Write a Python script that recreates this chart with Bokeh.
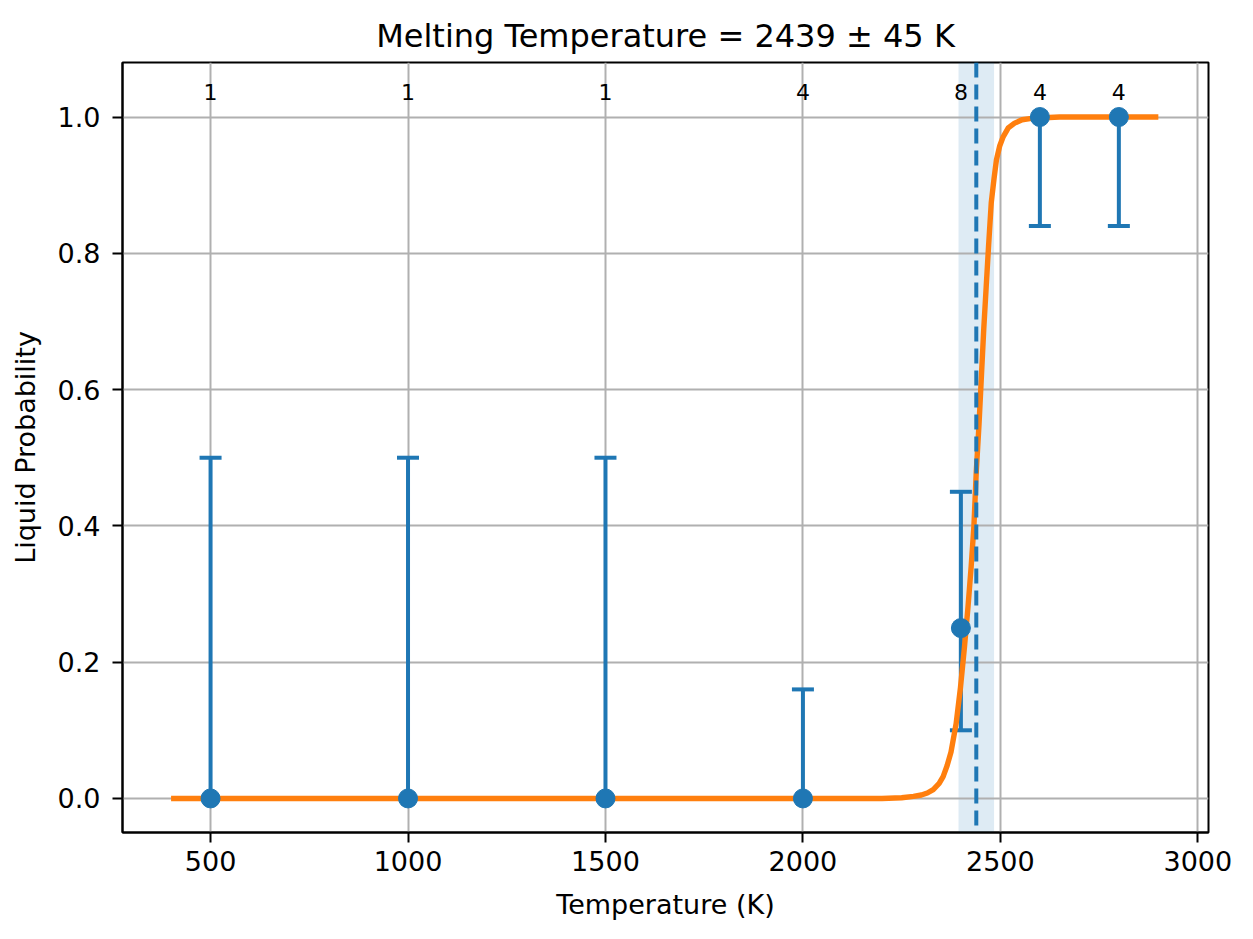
from bokeh.plotting import figure
from bokeh.models import (Range1d, Span, BoxAnnotation, FixedTicker,
                          PrintfTickFormatter)
from bokeh.embed import file_html
from bokeh.resources import INLINE
from bokeh.core.properties import value

# ---------------- data ----------------
temps = [500, 1000, 1500, 2000, 2400, 2600, 2800]
liquid_prob = [0.0, 0.0, 0.0, 0.0, 0.25, 1.0, 1.0]
prob_low = [0.0, 0.0, 0.0, 0.0, 0.10, 0.84, 0.84]
prob_high = [0.5, 0.5, 0.5, 0.16, 0.45, 1.0, 1.0]
n_runs = ["1", "1", "1", "4", "8", "4", "4"]

fit_T = [400, 2200, 2250, 2280, 2300, 2315, 2330, 2345, 2355, 2365, 2375,
         2388, 2399, 2409, 2418, 2426, 2433, 2439, 2446, 2452, 2458, 2464,
         2470, 2477, 2484, 2490, 2498, 2507, 2520, 2536, 2555, 2579, 2610,
         2650, 2900]
fit_p = [0.0, 0.0, 0.001, 0.003, 0.005, 0.008, 0.013, 0.022, 0.032, 0.048,
         0.068, 0.11, 0.163, 0.222, 0.281, 0.34, 0.40, 0.48, 0.55, 0.62,
         0.69, 0.75, 0.81, 0.875, 0.91, 0.937, 0.957, 0.971, 0.984, 0.991,
         0.996, 0.998, 0.999, 1.0, 1.0]

melt_T = 2439
melt_err = 45

x_ticks = [500, 1000, 1500, 2000, 2500, 3000]
y_ticks = [0.0, 0.2, 0.4, 0.6, 0.8, 1.0]

C0 = "#1f77b4"
C1 = "#ff7f0e"
FONT = "DejaVu Sans"

p = figure(
    frame_width=1086, frame_height=770,
    min_border_left=122, min_border_top=62, min_border_right=37,
    min_border_bottom=98,
    x_range=Range1d(277, 3027), y_range=Range1d(-0.05, 1.08),
    output_backend="svg", toolbar_location=None,
    title=f"Melting Temperature = {melt_T} \u00b1 {melt_err} K",
)
p.title.align = "center"
p.title.text_font = FONT
p.title.text_font_size = "32px"
p.title.text_font_style = "normal"
p.title.text_color = "black"
p.title.standoff = 15

p.outline_line_color = "black"
p.outline_line_width = 2
p.outline_line_alpha = 1.0

for ax in (p.xaxis[0], p.yaxis[0]):
    ax.axis_line_color = "black"
    ax.axis_line_width = 2
    ax.major_tick_line_color = "black"
    ax.major_tick_line_width = 2
    ax.major_tick_out = 10
    ax.major_tick_in = 0
    ax.minor_tick_line_color = None
    ax.major_label_text_font = FONT
    ax.major_label_text_font_size = "27px"
    ax.major_label_text_color = "black"
    ax.axis_label_text_font = FONT
    ax.axis_label_text_font_size = "27px"
    ax.axis_label_text_font_style = "normal"
    ax.axis_label_text_color = "black"

p.xaxis.ticker = FixedTicker(ticks=x_ticks)
p.xaxis.formatter = PrintfTickFormatter(format="%d")
p.yaxis.ticker = FixedTicker(ticks=y_ticks)
p.yaxis.formatter = PrintfTickFormatter(format="%.1f")
p.xaxis.axis_label = "Temperature (K)"
p.yaxis.axis_label = "Liquid Probability"
p.xaxis.major_label_standoff = 8
p.yaxis.major_label_standoff = 12
p.xaxis.axis_label_standoff = 15
p.yaxis.axis_label_standoff = 14

p.grid.grid_line_color = "#b0b0b0"
p.grid.grid_line_width = 2

# uncertainty band on the melting temperature
band = BoxAnnotation(left=melt_T - melt_err, right=melt_T + melt_err,
                     fill_color=C0, fill_alpha=0.15, line_color=None,
                     level="image")
p.add_layout(band)

# error bars
p.segment(x0=temps, y0=prob_low, x1=temps, y1=prob_high,
          line_color=C0, line_width=4)
cap_x, cap_y = [], []
for t, v, lo, hi in zip(temps, liquid_prob, prob_low, prob_high):
    if lo != v:
        cap_x.append(t); cap_y.append(lo)
    if hi != v:
        cap_x.append(t); cap_y.append(hi)
p.scatter(x=cap_x, y=cap_y, marker="dash", size=22, line_color=C0,
          line_width=4)

# fitted curve
p.line(x=fit_T, y=fit_p, line_color=C1, line_width=5.4,
       line_join="round")

# data points
p.scatter(x=temps, y=liquid_prob, size=19, marker="circle",
          fill_color=C0, line_color=C0)

# run counts
p.text(x=temps, y=[1.037] * len(temps), text=n_runs,
       text_align="center", text_baseline="alphabetic",
       text_font=value(FONT), text_font_size="22px", text_color="black")

# melting temperature line
p.add_layout(Span(location=melt_T, dimension="height", line_color=C0,
                  line_width=4, line_dash="15 7"))

open("out.html", "w").write(file_html(p, INLINE))
